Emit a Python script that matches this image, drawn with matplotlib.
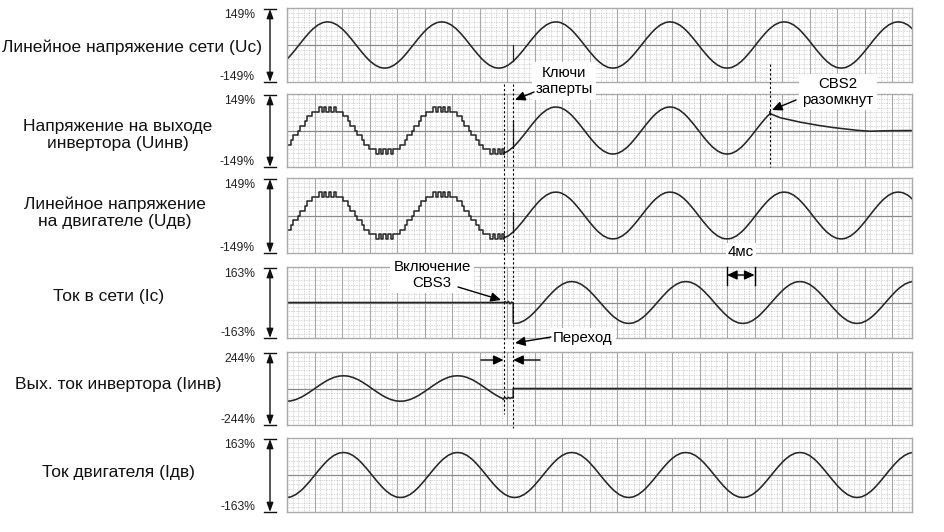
import numpy as np
import matplotlib
matplotlib.use('Agg')
import matplotlib.pyplot as plt
from matplotlib.transforms import blended_transform_factory

plt.rcParams['font.family'] = ['Liberation Sans', 'DejaVu Sans']

# ---------------- data ----------------
panel_labels = ["Линейное напряжение сети (Uc)",
                "Напряжение на выходе\nинвертора (Uинв)",
                "Линейное напряжение\nна двигателе (Uдв)",
                "Ток в сети (Ic)",
                "Вых. ток инвертора (Iинв)",
                "Ток двигателя (Iдв)"]
scale_top = ["149%", "149%", "149%", "163%", "244%", "163%"]
scale_bottom = ["-149%", "-149%", "-149%", "-163%", "-244%", "-163%"]
full_scale = [149, 149, 149, 163, 244, 163]

record_ms = 90.9          # visible record length
period_ms = 16.6          # period of the traces
volt_zero_ms = 1.75       # first rising zero crossing of the voltages
curr_zero_ms = 4.05       # first rising zero crossing of the currents
t_cbs3_on = 31.5          # CBS3 closes
t_transfer = 32.9         # keys locked, transfer done
t_cbs2_open = 70.25       # CBS2 opens

amp_uc, amp_uinv, amp_udv = 93, 96, 93
amp_ic, amp_iinv, amp_idv = 96, 85, 99

# one recorded period, 48 samples, in fractions of the peak
sine_shape = [0.00, 0.13, 0.26, 0.38, 0.50, 0.61, 0.71, 0.79, 0.87, 0.92, 0.97, 0.99,
              1.00, 0.99, 0.97, 0.92, 0.87, 0.79, 0.71, 0.61, 0.50, 0.38, 0.26, 0.13,
              0.00, -0.13, -0.26, -0.38, -0.50, -0.61, -0.71, -0.79, -0.87, -0.92, -0.97, -0.99,
              -1.00, -0.99, -0.97, -0.92, -0.87, -0.79, -0.71, -0.61, -0.50, -0.38, -0.26, -0.13]
# multilevel inverter staircase with chatter at the extremes
stair_shape = [0.0, 0.2, 0.2, 0.4, 0.6, 0.6, 0.8, 0.8, 0.8, 1.0, 0.8, 1.0,
               0.8, 1.0, 0.8, 1.0, 0.8, 0.8, 0.8, 0.6, 0.6, 0.4, 0.2, 0.2,
               0.0, -0.2, -0.2, -0.4, -0.6, -0.6, -0.8, -0.8, -0.8, -1.0, -0.8, -1.0,
               -0.8, -1.0, -0.8, -1.0, -0.8, -0.8, -0.8, -0.6, -0.6, -0.4, -0.2, -0.2]

spike_uc, spike_uinv, spike_udv = 0, 40, 12
ic_wiggle = [0, 4, -3, 5, -6, 2, -4]
iinv_wiggle = [-66, -60, -69, -59, -67, -61, -64]
decay_dt_ms = [0, 1.5, 4.4, 7.0, 9.2, 12.6, 14.5, 17.0, 20.7]
decay_uinv = [69, 52, 34, 21, 12, 1, -3, -1, 0]
scale_4ms = (64, 68)

# ---------------- figure ----------------
W, H = 945, 532
fig = plt.figure(figsize=(W / 100, H / 100), dpi=100)
left_px, right_px = 287, 912
panel_px = [(8, 82), (94, 167), (178, 253), (267, 338), (352, 425), (438, 512)]

TRACE = '#262626'


def tiled(shape, zero_ms, amp, t0, t1):
    n = len(shape)
    dt = period_ms / n
    k0 = int(np.floor((t0 - zero_ms) / dt))
    k1 = int(np.ceil((t1 - zero_ms) / dt))
    k = np.arange(k0, k1 + 1)
    t = np.clip(zero_ms + k * dt, t0, t1)
    v = amp * np.asarray(shape)[k % n]
    return t, v


axes = []
for i, (top, bot) in enumerate(panel_px):
    ax = fig.add_axes([left_px / W, 1 - bot / H, (right_px - left_px) / W, (bot - top) / H])
    f = full_scale[i]
    ax.set_xlim(0, record_ms)
    ax.set_ylim(-f, f)
    ax.set_xticks(np.arange(0, record_ms, 4))
    ax.set_xticks(np.arange(0, record_ms, 0.8), minor=True)
    ax.set_yticks([0])
    ax.set_yticks(np.arange(-f, f + 1e-6, f / 8), minor=True)
    ax.tick_params(which='both', length=0, labelbottom=False, labelleft=False)
    ax.grid(which='minor', color='#b4b4b4', lw=0.5, linestyle=(0, (1, 1.4)))
    ax.grid(which='major', axis='x', color='#a8a8a8', lw=0.8)
    ax.grid(which='major', axis='y', color='#8a8a8a', lw=0.9)
    ax.set_axisbelow(True)
    for s in ax.spines.values():
        s.set_color('#aaaaaa')
        s.set_linewidth(1.0)
    axes.append(ax)

lw = 1.15
# 1: grid line voltage
t, v = tiled(sine_shape, volt_zero_ms, amp_uc, 0, record_ms)
axes[0].plot(t, v, color=TRACE, lw=lw)
idx = np.argmin(np.abs(t - t_transfer))
axes[0].plot([t_transfer, t_transfer], [v[idx], spike_uc], color=TRACE, lw=0.9)

# 2: inverter output voltage
ts, vs = tiled(stair_shape, volt_zero_ms, amp_uinv, 0, t_cbs3_on)
axes[1].plot(ts, vs, color=TRACE, lw=1.1, drawstyle='steps-mid')
t2, v2 = tiled(sine_shape, volt_zero_ms, amp_uinv, t_cbs3_on, t_cbs2_open)
axes[1].plot(np.r_[ts[-1], t2], np.r_[vs[-1], v2], color=TRACE, lw=lw)
td = t_cbs2_open + np.asarray(decay_dt_ms)
axes[1].plot(np.r_[t2[-1], td], np.r_[v2[-1], decay_uinv], color=TRACE, lw=lw)
idx = np.argmin(np.abs(t2 - t_transfer))
axes[1].plot([t_transfer, t_transfer], [v2[idx], spike_uinv], color=TRACE, lw=0.9)

# 3: motor line voltage
ts, vs = tiled(stair_shape, volt_zero_ms, amp_udv, 0, t_cbs3_on)
axes[2].plot(ts, vs, color=TRACE, lw=1.1, drawstyle='steps-mid')
t3, v3 = tiled(sine_shape, volt_zero_ms, amp_udv, t_cbs3_on, record_ms)
axes[2].plot(np.r_[ts[-1], t3], np.r_[vs[-1], v3], color=TRACE, lw=lw)
idx = np.argmin(np.abs(t3 - t_transfer))
axes[2].plot([t_transfer, t_transfer], [v3[idx], spike_udv], color=TRACE, lw=0.9)

# 4: grid current
tw = np.linspace(t_cbs3_on, t_transfer, len(ic_wiggle))
t4, v4 = tiled(sine_shape, curr_zero_ms, amp_ic, t_transfer, record_ms)
axes[3].plot(np.r_[0, tw, t4], np.r_[0, ic_wiggle, v4], color=TRACE, lw=lw)

# 5: inverter output current
t5, v5 = tiled(sine_shape, curr_zero_ms, amp_iinv, 0, t_cbs3_on)
tw = np.linspace(t_cbs3_on, t_transfer, len(iinv_wiggle))
axes[4].plot(np.r_[t5, tw, t_transfer, record_ms], np.r_[v5, iinv_wiggle, 0, 0],
             color=TRACE, lw=lw)

# 6: motor current
t6, v6 = tiled(sine_shape, curr_zero_ms, amp_idv, 0, record_ms)
axes[5].plot(t6, v6, color=TRACE, lw=lw)

# ---------------- overlay (labels, arrows) ----------------
ov = fig.add_axes([0, 0, 1, 1], zorder=10)
ov.set_xlim(0, W)
ov.set_ylim(H, 0)
ov.axis('off')
ov.patch.set_alpha(0)

label_pos = [(132, 47), (118, 135), (115, 213), (109, 297), (118, 385), (118, 473)]
for i, (top, bot) in enumerate(panel_px):
    ov.text(*label_pos[i], panel_labels[i], ha='center', va='center', fontsize=12.5,
            linespacing=1.2, color='#111111')
    ov.text(255, top + 7, scale_top[i], ha='right', va='center', fontsize=8.7, color='#222222')
    ov.text(255, bot - 5, scale_bottom[i], ha='right', va='center', fontsize=8.7, color='#222222')
    ov.annotate('', xy=(270, top + 1), xytext=(270, bot),
                arrowprops=dict(arrowstyle='<|-|>,head_length=0.55,head_width=0.2',
                                color='#111111', lw=1.0, shrinkA=0, shrinkB=0))
    ov.plot([264, 276], [top + 1, top + 1], color='#111111', lw=1.0)
    ov.plot([264, 276], [bot, bot], color='#111111', lw=1.0)

# dashed event lines
bt = blended_transform_factory(axes[0].transData, ov.transData)
ov.plot([t_cbs3_on, t_cbs3_on], [84, 414], transform=bt, color='black', lw=0.8,
        linestyle=(0, (2, 2)))
ov.plot([t_transfer, t_transfer], [84, 428], transform=bt, color='black', lw=0.8,
        linestyle=(0, (2, 2)))
ov.plot([t_cbs2_open, t_cbs2_open], [64, 167], transform=bt, color='black', lw=0.8,
        linestyle=(0, (2, 2)))

box = dict(facecolor='white', edgecolor='none', pad=2.5)
arrow = dict(arrowstyle='-|>,head_length=0.6,head_width=0.28', color='black', lw=1.0,
             shrinkA=0, shrinkB=0)
fs = 10.8
ov.text(564, 81, "Ключи\nзаперты", ha='center', va='center', fontsize=fs,
        linespacing=1.2, bbox=box)
ov.annotate('', xy=(515, 100), xytext=(534, 92), arrowprops=arrow)

ov.text(838, 92, "CBS2\nразомкнут", ha='center', va='center', fontsize=fs,
        linespacing=1.15, bbox=box)
ov.annotate('', xy=(772, 110), xytext=(796, 100), arrowprops=arrow)

ov.text(432, 275, "Включение\nCBS3", ha='center', va='center', fontsize=fs,
        linespacing=1.1, bbox=box)
ov.annotate('', xy=(501, 300), xytext=(458, 287), arrowprops=arrow)

ov.text(583, 338, "Переход", ha='center', va='center', fontsize=fs, bbox=box)
ov.annotate('', xy=(515, 343), xytext=(551, 337), arrowprops=arrow)

# transfer interval arrows
tx = blended_transform_factory(axes[0].transData, ov.transData)
ov.annotate('', xy=(t_cbs3_on, 360), xytext=(t_cbs3_on - 3.3, 360), xycoords=tx,
            textcoords=tx, arrowprops=arrow)
ov.annotate('', xy=(t_transfer, 360), xytext=(t_transfer + 3.9, 360), xycoords=tx,
            textcoords=tx, arrowprops=arrow)

# 4 ms marker
ov.text(0.5 * (scale_4ms[0] + scale_4ms[1]), 252, "4мс", transform=tx, ha='center',
        va='center', fontsize=fs, bbox=dict(facecolor='white', edgecolor='none', pad=1.5))
ov.annotate('', xy=(scale_4ms[0], 275), xytext=(scale_4ms[1], 275), xycoords=tx,
            textcoords=tx,
            arrowprops=dict(arrowstyle='<|-|>,head_length=0.6,head_width=0.28',
                            color='black', lw=1.0, shrinkA=0, shrinkB=0))
for xm in scale_4ms:
    ov.plot([xm, xm], [267, 285], transform=tx, color='black', lw=1.0)

fig.savefig('out.png', dpi=100)
